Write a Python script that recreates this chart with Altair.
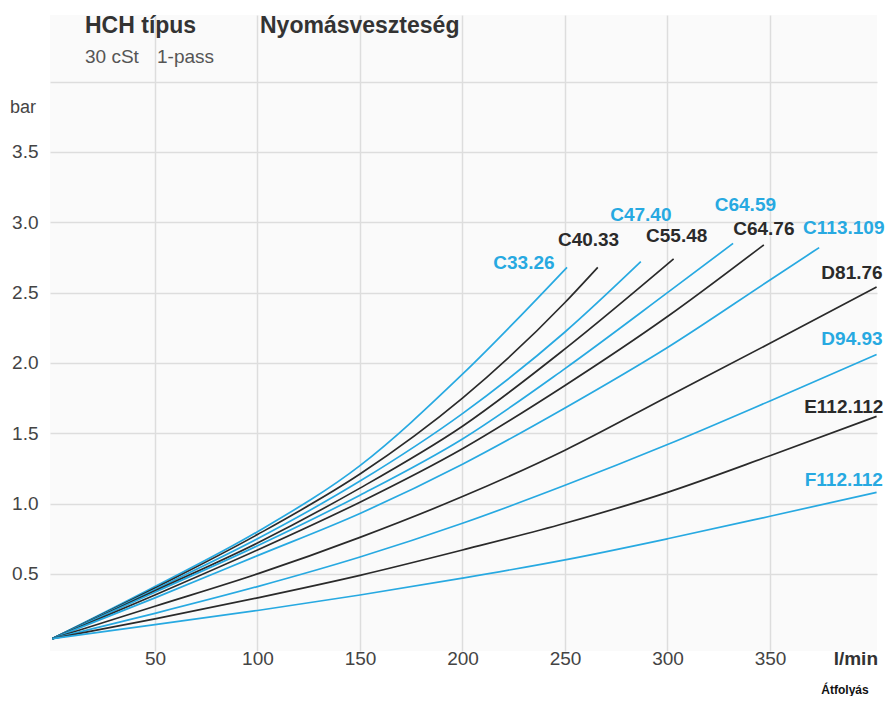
import altair as alt
import pandas as pd

# ---- data ----
series_names = ["C33.26", "C40.33", "C47.40", "C55.48", "C64.59", "C64.76",
                "C113.109", "D81.76", "D94.93", "E112.112", "F112.112"]
series_group = ["blue", "black", "blue", "black", "blue", "black",
                "blue", "black", "blue", "black", "blue"]

flow_c33_26 = [0, 50, 100, 150, 200, 251]
dp_c33_26 = [0.04, 0.41, 0.80, 1.27, 1.92, 2.68]
flow_c40_33 = [0, 50, 100, 150, 200, 250, 266]
dp_c40_33 = [0.04, 0.40, 0.78, 1.21, 1.75, 2.43, 2.68]
flow_c47_40 = [0, 50, 100, 150, 200, 250, 287]
dp_c47_40 = [0.04, 0.39, 0.75, 1.16, 1.64, 2.22, 2.72]
flow_c55_48 = [0, 50, 100, 150, 200, 250, 303]
dp_c55_48 = [0.04, 0.38, 0.72, 1.11, 1.55, 2.10, 2.74]
flow_c64_59 = [0, 50, 100, 150, 200, 250, 300, 332]
dp_c64_59 = [0.04, 0.37, 0.70, 1.06, 1.46, 1.96, 2.50, 2.85]
flow_c64_76 = [0, 50, 100, 150, 200, 250, 300, 347]
dp_c64_76 = [0.04, 0.35, 0.67, 1.01, 1.39, 1.84, 2.33, 2.84]
flow_c113_109 = [0, 50, 100, 150, 200, 250, 300, 350, 374]
dp_c113_109 = [0.04, 0.33, 0.63, 0.93, 1.28, 1.68, 2.11, 2.59, 2.82]
flow_d81_76 = [0, 50, 100, 150, 200, 250, 300, 350, 402]
dp_d81_76 = [0.04, 0.27, 0.50, 0.76, 1.05, 1.38, 1.76, 2.14, 2.54]
flow_d94_93 = [0, 50, 100, 150, 200, 250, 300, 350, 402]
dp_d94_93 = [0.04, 0.22, 0.41, 0.62, 0.86, 1.13, 1.42, 1.73, 2.06]
flow_e112_112 = [0, 50, 100, 150, 200, 250, 300, 350, 402]
dp_e112_112 = [0.04, 0.18, 0.33, 0.49, 0.67, 0.86, 1.08, 1.34, 1.62]
flow_f112_112 = [0, 50, 100, 150, 200, 250, 300, 350, 402]
dp_f112_112 = [0.04, 0.14, 0.24, 0.35, 0.47, 0.60, 0.75, 0.91, 1.08]

# label anchor positions (data units)
label_flow = [230, 261.5, 287, 304.5, 338, 347, 386, 390, 390, 386, 386]
label_dp = [2.71, 2.875, 3.05, 2.90, 3.12, 2.95, 2.96, 2.64, 2.17, 1.69, 1.17]

x_ticks = [50, 100, 150, 200, 250, 300, 350]
y_ticks = [0.5, 1.0, 1.5, 2.0, 2.5, 3.0, 3.5, 4.0]

title_main = "HCH típus"
title_second = "Nyomásveszteség"
sub_a = "30 cSt"
sub_b = "1-pass"
y_unit = "bar"
x_unit = "l/min"
x_title = "Átfolyás"

flows = [flow_c33_26, flow_c40_33, flow_c47_40, flow_c55_48, flow_c64_59, flow_c64_76,
         flow_c113_109, flow_d81_76, flow_d94_93, flow_e112_112, flow_f112_112]
dps = [dp_c33_26, dp_c40_33, dp_c47_40, dp_c55_48, dp_c64_59, dp_c64_76,
       dp_c113_109, dp_d81_76, dp_d94_93, dp_e112_112, dp_f112_112]

rows = []
for name, grp, fl, dp in zip(series_names, series_group, flows, dps):
    for f, d in zip(fl, dp):
        rows.append({"series": name, "group": grp, "flow": f, "dp": d})
lines_df = pd.DataFrame(rows)
labels_df = pd.DataFrame({"series": series_names, "group": series_group,
                          "flow": label_flow, "dp": label_dp})

BLUE = "#27a9e1"
BLACK = "#2a2a2a"
FONT = "Liberation Sans"

color_scale = alt.Scale(domain=["blue", "black"], range=[BLUE, BLACK])
x_scale = alt.Scale(domain=[-1.2, 402.2], nice=False, zero=False)
y_scale = alt.Scale(domain=[-0.048, 4.474], nice=False, zero=False)

x_axis = alt.Axis(values=x_ticks, grid=True, gridColor="#dddddd", gridWidth=1.5,
                  domain=False, ticks=False, labelFontSize=19, labelColor="#444444",
                  labelFont=FONT, labelPadding=7, labelBaseline="middle", title=None,
                  labelFlush=False)
y_axis = alt.Axis(values=y_ticks, grid=True, gridColor="#dddddd", gridWidth=1.5,
                  domain=False, ticks=False, labelFontSize=19, labelColor="#444444",
                  labelFont=FONT, labelPadding=12, title=None,
                  labelExpr="datum.value >= 4 ? '' : format(datum.value, '.1f')")

lines = alt.Chart(lines_df).mark_line(interpolate="monotone", strokeWidth=1.7).encode(
    x=alt.X("flow:Q", scale=x_scale, axis=x_axis),
    y=alt.Y("dp:Q", scale=y_scale, axis=y_axis),
    detail="series:N",
    color=alt.Color("group:N", scale=color_scale, legend=None),
    order="flow:Q",
)

labels = alt.Chart(labels_df).mark_text(font=FONT, fontSize=19, fontWeight="bold",
                                        align="center", baseline="middle").encode(
    x=alt.X("flow:Q", scale=x_scale),
    y=alt.Y("dp:Q", scale=y_scale),
    text="series:N",
    color=alt.Color("group:N", scale=color_scale, legend=None),
)


def note(txt, px, py, size, weight="normal", color="#333333", align="left"):
    return alt.Chart(pd.DataFrame({"t": [txt]})).mark_text(
        font=FONT, fontSize=size, fontWeight=weight, color=color,
        align=align, baseline="alphabetic").encode(
        x=alt.value(px), y=alt.value(py), text="t:N")


notes = [
    note(title_main, 35, 18, 23, "bold", "#333333"),
    note(title_second, 210, 18, 23, "bold", "#333333"),
    note(sub_a, 35, 48, 19, "normal", "#555555"),
    note(sub_b, 107, 48, 19, "normal", "#555555"),
    note(y_unit, -40, 98, 18, "normal", "#444444"),
    note(x_unit, 828, 650, 19, "bold", "#333333", "right"),
    note(x_title, 795, 679, 12, "bold", "#111111", "center"),
]

chart = alt.layer(lines, labels, *notes).properties(
    width=827, height=636,
    background="white",
    autosize=alt.AutoSizeParams(type="none"),
    padding={"left": 42, "top": 7, "right": 9, "bottom": 45},
).configure_view(fill="#fafafa", stroke="transparent", strokeWidth=0)

chart.save("out.html", embed_options={"renderer": "svg", "actions": False})
